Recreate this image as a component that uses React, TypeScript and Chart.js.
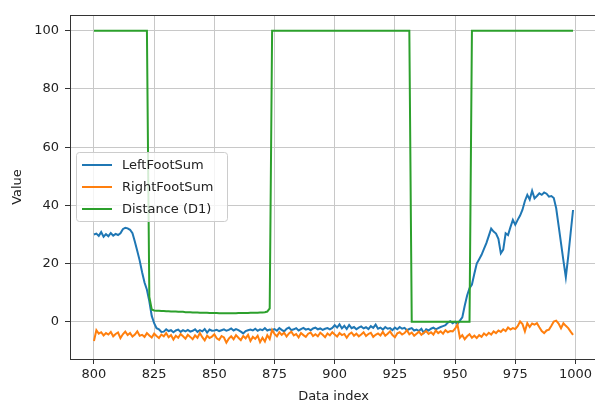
import React, { useEffect, useRef } from 'react';
import { Chart, registerables } from 'chart.js';

Chart.register(...registerables);

// ---- Data ----
const dataIndex: number[] = Array.from({ length: 200 }, (_, i) => 800 + i);

const leftFootSum: number[] = [
  30.0, 30.3, 29.5, 30.8, 29.2, 30.1, 29.4, 30.5, 29.6, 30.2,
  29.8, 30.4, 31.8, 32.3, 32.1, 31.6, 30.4, 27.5, 24.3, 21.0,
  17.0, 13.5, 11.0, 7.0, 2.0, -0.5, -2.2, -2.6, -3.5, -3.4,
  -2.6, -3.2, -2.9, -3.6, -3.0, -2.7, -3.5, -2.9, -3.3, -2.8,
  -3.4, -3.1, -2.6, -3.5, -2.9, -3.3, -2.5, -3.7, -2.7, -3.1,
  -3.0, -2.8, -3.2, -2.9, -2.6, -3.1, -2.8, -2.3, -3.0, -2.5,
  -2.9, -3.4, -4.0, -3.2, -2.9, -2.7, -3.0, -2.4, -3.1, -2.6,
  -2.9, -2.2, -3.0, -2.7, -2.8, -2.5, -3.1, -2.2, -2.8, -3.3,
  -2.4, -2.0, -2.9, -2.6, -2.2, -3.0, -2.5, -2.1, -2.7, -2.4,
  -2.9, -2.3, -2.0, -2.6, -2.3, -2.8, -2.4, -2.2, -2.6, -2.1,
  -1.2, -2.0, -0.9, -2.3, -1.4, -2.5, -1.1, -2.2, -1.8, -2.6,
  -2.0, -1.6, -2.3, -1.9, -2.5, -1.5, -2.1, -1.0, -2.4, -2.0,
  -2.7, -1.8, -2.4, -2.2, -2.9, -2.0, -2.6, -1.8, -2.4, -2.1,
  -2.9, -2.5, -2.2, -3.0, -2.7, -3.2, -2.4, -3.8, -2.6, -3.0,
  -2.4, -2.0, -2.6, -2.2, -1.8, -1.5, -1.2, -0.3, 0.2, -0.5,
  0.0, -0.8, 0.4, 1.5, 5.5, 9.0, 11.5, 12.8, 16.5, 20.0,
  21.5, 23.0, 25.0, 27.0, 29.5, 32.0, 31.0, 30.3, 28.5, 23.5,
  24.8, 30.4, 29.8, 32.5, 35.0, 33.3, 35.0, 36.5, 38.5, 41.5,
  43.6, 42.0, 45.0, 42.4, 43.2, 44.1, 43.6, 44.4, 44.0, 43.0,
  43.2, 42.5, 39.0, 33.0, 27.0, 21.0, 15.3, 22.5, 30.5, 38.4,
];

const rightFootSum: number[] = [
  -6.6, -2.9, -4.1, -3.6, -4.7, -3.9, -4.4, -3.5, -5.0, -4.2,
  -3.7, -5.6, -4.3, -3.4, -4.6, -3.9, -5.1, -4.4, -3.3, -4.8,
  -4.5, -5.2, -3.9, -4.7, -5.4, -4.1, -4.9, -5.6, -4.4, -5.0,
  -3.9, -5.3, -4.6, -6.1, -4.8, -5.5, -4.2, -5.0, -5.8, -4.5,
  -5.2, -6.0, -4.7, -5.5, -3.9, -5.3, -6.4, -4.8, -5.6, -5.1,
  -4.3, -5.7, -6.2, -4.9, -5.4, -7.2, -5.8, -5.0, -6.0, -4.6,
  -5.5, -6.3, -4.9, -5.7, -4.5, -6.6, -5.2, -5.9, -4.8, -7.0,
  -5.5, -6.8, -4.6, -5.9, -2.8, -4.2, -5.0, -3.6, -4.5, -3.8,
  -5.1, -4.0, -3.4, -4.7, -4.2, -5.4, -3.9, -4.6, -5.2, -4.1,
  -3.7, -4.9, -4.3, -5.0, -3.8, -4.5, -5.3, -4.0, -4.7, -3.6,
  -4.4, -5.1, -3.9, -4.6, -4.2, -5.5, -4.3, -3.7, -4.8, -4.1,
  -5.0, -4.4, -3.6, -4.9, -4.2, -3.8, -5.2, -4.5, -4.0, -4.7,
  -3.5, -4.8, -4.1, -3.3, -4.6, -5.3, -4.0, -3.6, -4.4, -3.9,
  -2.9, -4.3, -3.7, -4.8, -4.1, -3.4, -4.5, -3.8, -3.2, -4.2,
  -3.6, -4.4, -3.0, -3.9, -3.3, -4.1, -2.9, -3.6, -3.2, -3.3,
  -2.4, -1.0, -5.5, -4.6, -6.0, -5.0, -4.3, -5.5, -4.8, -5.6,
  -4.6, -5.2, -4.0, -4.7, -3.8, -4.4, -3.3, -3.9, -3.0, -3.5,
  -2.6, -3.2, -2.0, -2.7, -2.2, -2.5, -1.5, 0.1, -0.8, -3.3,
  -0.5, -1.8, -0.6, -1.0, -0.5, -1.9, -3.2, -3.9, -3.0, -2.7,
  -1.4, 0.1, 0.4, -0.6, -2.2, -0.5, -1.4, -2.2, -3.4, -4.5,
];

const distanceD1: number[] = [
  // 800-822
  100, 100, 100, 100, 100, 100, 100, 100, 100, 100,
  100, 100, 100, 100, 100, 100, 100, 100, 100, 100,
  100, 100, 100,
  // 823-825
  8.5, 4.2, 3.9,
  // 826-873
  3.8, 3.8, 3.7, 3.7, 3.6, 3.6, 3.5, 3.5, 3.5, 3.4,
  3.4, 3.4, 3.3, 3.3, 3.3, 3.2, 3.2, 3.2, 3.1, 3.1,
  3.1, 3.1, 3.0, 3.0, 3.0, 3.0, 2.9, 2.9, 2.9, 2.9,
  2.9, 2.9, 2.9, 2.9, 3.0, 3.0, 3.0, 3.0, 3.0, 3.1,
  3.1, 3.1, 3.1, 3.2, 3.2, 3.3, 3.5, 4.6,
  // 874-931
  100, 100, 100, 100, 100, 100, 100, 100, 100, 100,
  100, 100, 100, 100, 100, 100, 100, 100, 100, 100,
  100, 100, 100, 100, 100, 100, 100, 100, 100, 100,
  100, 100, 100, 100, 100, 100, 100, 100, 100, 100,
  100, 100, 100, 100, 100, 100, 100, 100, 100, 100,
  100, 100, 100, 100, 100, 100, 100, 100,
  // 932-956
  0, 0, 0, 0, 0, 0, 0, 0, 0, 0,
  0, 0, 0, 0, 0, 0, 0, 0, 0, 0,
  0, 0, 0, 0, 0,
  // 957-999
  100, 100, 100, 100, 100, 100, 100, 100, 100, 100,
  100, 100, 100, 100, 100, 100, 100, 100, 100, 100,
  100, 100, 100, 100, 100, 100, 100, 100, 100, 100,
  100, 100, 100, 100, 100, 100, 100, 100, 100, 100,
  100, 100, 100,
];

const xTicks: number[] = [800, 825, 850, 875, 900, 925, 950, 975, 1000];
const yTicks: number[] = [0, 20, 40, 60, 80, 100];
const seriesNames: string[] = ['LeftFootSum', 'RightFootSum', 'Distance (D1)'];
const seriesColors: string[] = ['#1f77b4', '#ff7f0e', '#2ca02c'];
const xLabel = 'Data index';
const yLabel = 'Value';

const FONT = "'DejaVu Sans', sans-serif";

const framePlugin = {
  id: 'frameAndLegend',
  afterDatasetsDraw(chart: any) {
    const { ctx, chartArea: a } = chart;
    ctx.save();
    // spines
    ctx.strokeStyle = '#333';
    ctx.lineWidth = 1;
    ctx.strokeRect(Math.round(a.left) + 0.5, Math.round(a.top) + 0.5, Math.round(a.right - a.left), Math.round(a.bottom - a.top));
    // legend
    const lx = 76.5, ly = 152.5, lw = 151, lh = 69, r = 3;
    ctx.beginPath();
    ctx.moveTo(lx + r, ly);
    ctx.lineTo(lx + lw - r, ly);
    ctx.quadraticCurveTo(lx + lw, ly, lx + lw, ly + r);
    ctx.lineTo(lx + lw, ly + lh - r);
    ctx.quadraticCurveTo(lx + lw, ly + lh, lx + lw - r, ly + lh);
    ctx.lineTo(lx + r, ly + lh);
    ctx.quadraticCurveTo(lx, ly + lh, lx, ly + lh - r);
    ctx.lineTo(lx, ly + r);
    ctx.quadraticCurveTo(lx, ly, lx + r, ly);
    ctx.closePath();
    ctx.fillStyle = 'rgba(255,255,255,0.8)';
    ctx.fill();
    ctx.strokeStyle = '#cccccc';
    ctx.stroke();
    ctx.font = `13px ${FONT}`;
    ctx.textBaseline = 'middle';
    ctx.textAlign = 'left';
    seriesNames.forEach((name, i) => {
      const y = 165 + i * 22;
      ctx.strokeStyle = seriesColors[i];
      ctx.lineWidth = 2;
      ctx.beginPath();
      ctx.moveTo(82, y);
      ctx.lineTo(112, y);
      ctx.stroke();
      ctx.fillStyle = '#222';
      ctx.fillText(name, 122, y + 0.5);
    });
    ctx.restore();
  },
};

export default function App() {
  const ref = useRef<HTMLCanvasElement | null>(null);
  useEffect(() => {
    if (!ref.current) return;
    Chart.defaults.font.family = FONT;
    Chart.defaults.font.size = 13;
    Chart.defaults.color = '#222';
    const series = [leftFootSum, rightFootSum, distanceD1];
    const chart = new Chart(ref.current, {
      type: 'line',
      data: {
        datasets: series.map((vals, i) => ({
          label: seriesNames[i],
          data: vals.map((v, j) => ({ x: dataIndex[j], y: v })),
          borderColor: seriesColors[i],
          backgroundColor: seriesColors[i],
          borderWidth: 2,
          pointRadius: 0,
          tension: 0,
          fill: false,
          order: 2 - i,
        })),
      },
      options: {
        animation: false,
        responsive: false,
        devicePixelRatio: 1,
        layout: { padding: { top: 15, right: 13, left: 0, bottom: 0 } },
        plugins: { legend: { display: false }, tooltip: { enabled: false } },
        scales: {
          x: {
            type: 'linear',
            min: 790.05,
            max: 1008.95,
            afterBuildTicks: (s: any) => { s.ticks = xTicks.map((v) => ({ value: v })); },
            afterFit: (s: any) => { s.height = 42; },
            ticks: { padding: 3, maxRotation: 0, color: '#222', font: { size: 13 }, callback: (v: any) => String(v) },
            grid: { color: '#c8c8c8', lineWidth: 1, tickColor: '#333', tickLength: 5 },
            border: { color: '#333', width: 1 },
            title: { display: true, text: xLabel, color: '#222', font: { size: 13, lineHeight: 1 }, padding: { top: 0, bottom: -2 } },
          },
          y: {
            type: 'linear',
            min: -12.8,
            max: 105.4,
            afterBuildTicks: (s: any) => { s.ticks = yTicks.map((v) => ({ value: v })); },
            afterFit: (s: any) => { s.width = 70; },
            ticks: { padding: 6, color: '#222', font: { size: 13 }, callback: (v: any) => String(v) },
            grid: { color: '#c8c8c8', lineWidth: 1, tickColor: '#333', tickLength: 5 },
            border: { color: '#333', width: 1 },
            title: { display: true, text: yLabel, color: '#222', font: { size: 13 }, padding: { top: 10, bottom: 0 } },
          },
        },
      },
      plugins: [framePlugin],
    });
    return () => chart.destroy();
  }, []);
  return (
    <div style={{ position: 'fixed', left: 0, top: 0, width: 610, height: 401 }}>
      <canvas ref={ref} width={610} height={401} style={{ width: 610, height: 401 }} />
    </div>
  );
}
